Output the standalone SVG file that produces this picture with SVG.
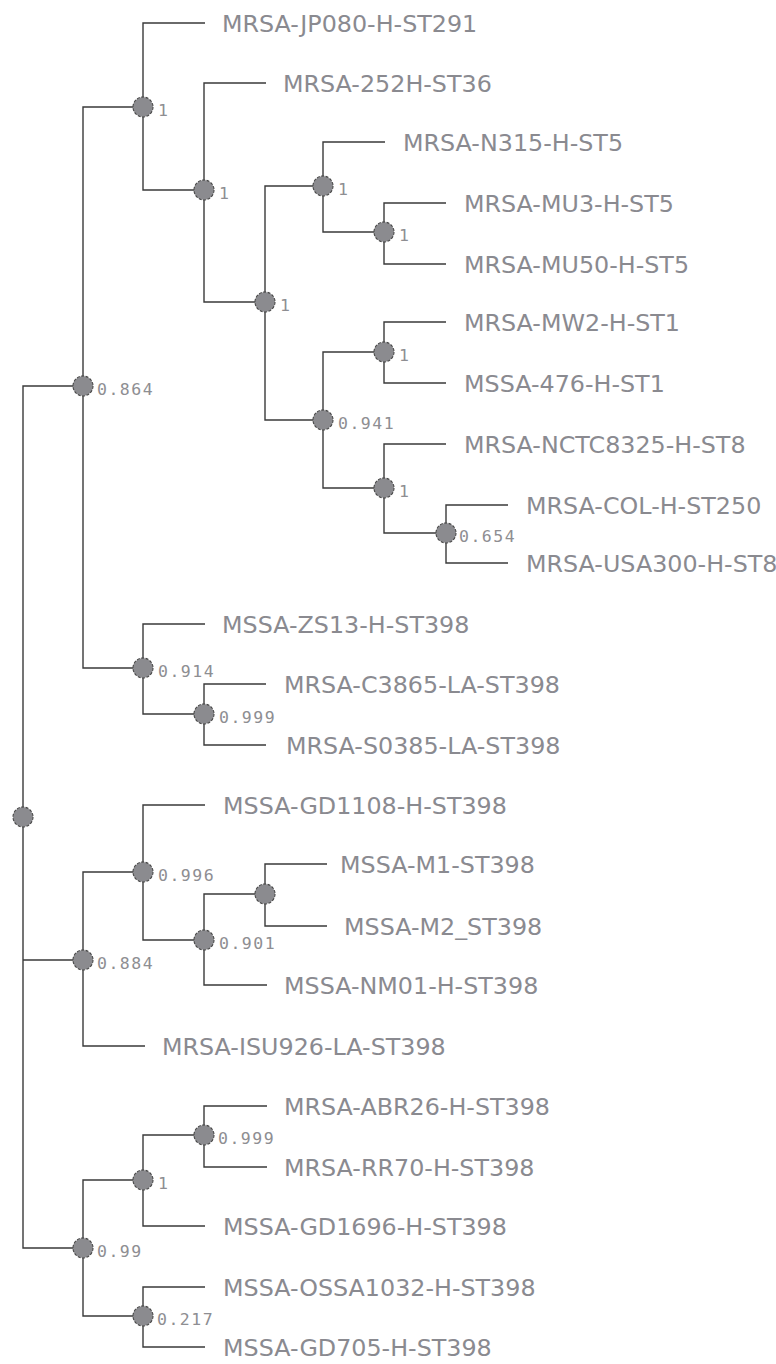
<svg xmlns="http://www.w3.org/2000/svg" width="776" height="1364" viewBox="0 0 776 1364">
<style>
.e{fill:none;stroke:#3a3a3a;stroke-width:1.4}
.n{fill:#8b8b8f;stroke:#444;stroke-width:1.1;stroke-dasharray:3 1.5}
.s{font-family:"DejaVu Sans Mono",monospace;font-size:16.5px;fill:#8e8e92;letter-spacing:1.5px}
.l{font-family:"DejaVu Sans",sans-serif;font-size:23.8px;fill:#8a8a90}
</style>
<rect width="776" height="1364" fill="#fff"/>
<g id="connectors">
<path class="e" d="M83,386H23V1248H83M23,960H83"/>
<path class="e" d="M143,107H83V668H143"/>
<path class="e" d="M205,23H143V190H204"/>
<path class="e" d="M266,83H204V302H265"/>
<path class="e" d="M323,186H265V420H323"/>
<path class="e" d="M385,142H323V232H384"/>
<path class="e" d="M446,203H384V264H446"/>
<path class="e" d="M384,352H323V488H384"/>
<path class="e" d="M446,322H384V383H446"/>
<path class="e" d="M446,444H384V533H446"/>
<path class="e" d="M508,505H446V563H508"/>
<path class="e" d="M205,624H143V714H204"/>
<path class="e" d="M266,684H204V745H266"/>
<path class="e" d="M143,872H83V1046H145"/>
<path class="e" d="M205,805H143V940H204"/>
<path class="e" d="M265,894H204V985H267"/>
<path class="e" d="M327,864H265V926H327"/>
<path class="e" d="M143,1180H83V1316H143"/>
<path class="e" d="M204,1135H143V1226H205"/>
<path class="e" d="M267,1106H204V1167H267"/>
<path class="e" d="M205,1287H143V1347H205"/>
</g>
<g id="root"><circle class="n" cx="23" cy="817" r="10"/></g>
<g id="n0864"><circle class="n" cx="83" cy="386" r="10"/><text class="s" x="97" y="395">0.864</text></g>
<g id="nA"><circle class="n" cx="143" cy="107" r="10"/><text class="s" x="158" y="116">1</text></g>
<g id="nB"><circle class="n" cx="204" cy="190" r="10"/><text class="s" x="219" y="199">1</text></g>
<g id="nC"><circle class="n" cx="265" cy="302" r="10"/><text class="s" x="280" y="311">1</text></g>
<g id="nD"><circle class="n" cx="323" cy="186" r="10"/><text class="s" x="338" y="195">1</text></g>
<g id="nMU"><circle class="n" cx="384" cy="232" r="10"/><text class="s" x="399" y="241">1</text></g>
<g id="n0941"><circle class="n" cx="323" cy="420" r="10"/><text class="s" x="338" y="429">0.941</text></g>
<g id="nMW"><circle class="n" cx="384" cy="352" r="10"/><text class="s" x="399" y="361">1</text></g>
<g id="nE"><circle class="n" cx="384" cy="488" r="10"/><text class="s" x="399" y="497">1</text></g>
<g id="n0654"><circle class="n" cx="446" cy="533" r="10"/><text class="s" x="459" y="542">0.654</text></g>
<g id="n0914"><circle class="n" cx="143" cy="668" r="10"/><text class="s" x="158" y="677">0.914</text></g>
<g id="n0999a"><circle class="n" cx="204" cy="714" r="10"/><text class="s" x="219" y="723">0.999</text></g>
<g id="n0884"><circle class="n" cx="83" cy="960" r="10"/><text class="s" x="97" y="969">0.884</text></g>
<g id="n0996"><circle class="n" cx="143" cy="872" r="10"/><text class="s" x="158" y="881">0.996</text></g>
<g id="n0901"><circle class="n" cx="204" cy="940" r="10"/><text class="s" x="219" y="949">0.901</text></g>
<g id="nM"><circle class="n" cx="265" cy="894" r="10"/></g>
<g id="n099"><circle class="n" cx="83" cy="1248" r="10"/><text class="s" x="97" y="1257">0.99</text></g>
<g id="n1b"><circle class="n" cx="143" cy="1180" r="10"/><text class="s" x="158" y="1189">1</text></g>
<g id="n0999b"><circle class="n" cx="204" cy="1135" r="10"/><text class="s" x="218" y="1144">0.999</text></g>
<g id="n0217"><circle class="n" cx="143" cy="1316" r="10"/><text class="s" x="157" y="1325">0.217</text></g>
<g id="leaves">
<text id="l1" class="l" x="222" y="32">MRSA-JP080-H-ST291</text>
<text id="l2" class="l" x="283" y="92">MRSA-252H-ST36</text>
<text id="l3" class="l" x="403" y="151">MRSA-N315-H-ST5</text>
<text id="l4" class="l" x="464" y="212">MRSA-MU3-H-ST5</text>
<text id="l5" class="l" x="464" y="273">MRSA-MU50-H-ST5</text>
<text id="l6" class="l" x="464" y="331">MRSA-MW2-H-ST1</text>
<text id="l7" class="l" x="464" y="392">MSSA-476-H-ST1</text>
<text id="l8" class="l" x="464" y="453">MRSA-NCTC8325-H-ST8</text>
<text id="l9" class="l" x="526" y="514">MRSA-COL-H-ST250</text>
<text id="l10" class="l" x="526" y="572">MRSA-USA300-H-ST8</text>
<text id="l11" class="l" x="222" y="633">MSSA-ZS13-H-ST398</text>
<text id="l12" class="l" x="284" y="693">MRSA-C3865-LA-ST398</text>
<text id="l13" class="l" x="286" y="754">MRSA-S0385-LA-ST398</text>
<text id="l14" class="l" x="223" y="814">MSSA-GD1108-H-ST398</text>
<text id="l15" class="l" x="340" y="873">MSSA-M1-ST398</text>
<text id="l16" class="l" x="344" y="935">MSSA-M2_ST398</text>
<text id="l17" class="l" x="284" y="994">MSSA-NM01-H-ST398</text>
<text id="l18" class="l" x="162" y="1055">MRSA-ISU926-LA-ST398</text>
<text id="l19" class="l" x="284" y="1115">MRSA-ABR26-H-ST398</text>
<text id="l20" class="l" x="284" y="1176">MRSA-RR70-H-ST398</text>
<text id="l21" class="l" x="223" y="1235">MSSA-GD1696-H-ST398</text>
<text id="l22" class="l" x="223" y="1296">MSSA-OSSA1032-H-ST398</text>
<text id="l23" class="l" x="223" y="1356">MSSA-GD705-H-ST398</text>
</g>
</svg>
